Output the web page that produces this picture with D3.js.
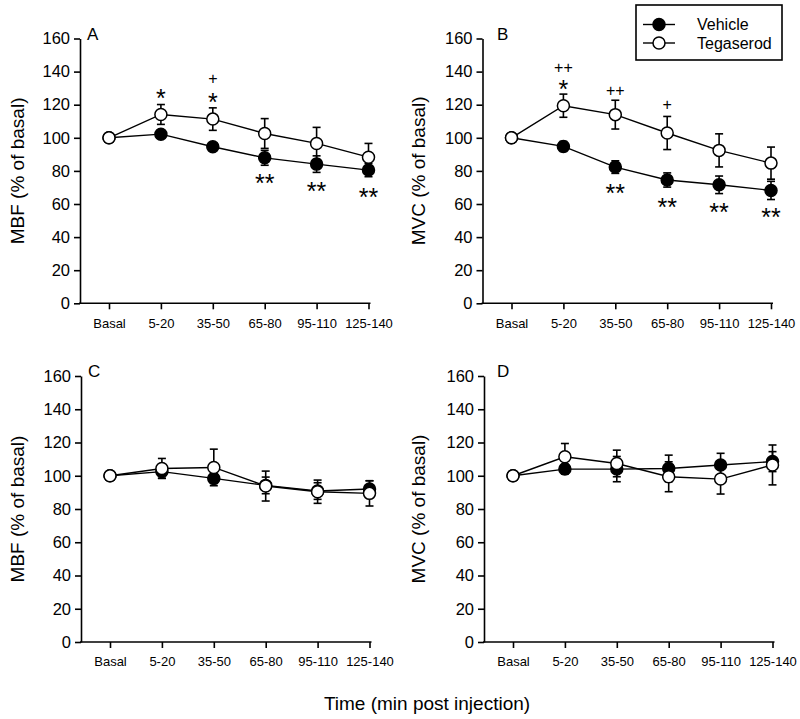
<!DOCTYPE html>
<html><head><meta charset="utf-8">
<script src="https://cdn.jsdelivr.net/npm/d3@7"></script>
<style>
html,body{margin:0;padding:0;background:#fff;}
svg{display:block;font-family:Arial,"Liberation Sans",Helvetica,sans-serif;}
</style></head>
<body>
<svg id="chart" width="800" height="719"></svg>
<script>
// ---------- data ----------
const categories = ["Basal","5-20","35-50","65-80","95-110","125-140"];
const yTicks = [0,20,40,60,80,100,120,140,160];
const seriesNames = ["Vehicle","Tegaserod"];

// Panel A: MBF (drug)
const vehicleA = [100, 102.2, 94.6, 87.9, 84.1, 80.5];
const vehicleAErr = [0, 2, 2, 4.5, 5, 4];
const tegaserodA = [100, 114.1, 111.3, 102.6, 96.6, 88.3];
const tegaserodAErr = [0, 6, 6.8, 9, 9.7, 8.3];
// Panel B: MVC
const vehicleB = [100, 94.8, 82.3, 74.5, 71.6, 68.2];
const vehicleBErr = [0, 3, 3.8, 4.3, 5.3, 5.5];
const tegaserodB = [100, 119.4, 114, 102.9, 92.4, 84.7];
const tegaserodBErr = [0, 7, 8.7, 10, 10, 9.7];
// Panel C: MBF
const vehicleC = [100, 102.5, 98.4, 94.2, 90.8, 92];
const vehicleCErr = [0, 4, 3, 5, 5, 5];
const tegaserodC = [100, 104.4, 105, 93.8, 90.4, 89.4];
const tegaserodCErr = [0, 6, 11, 9, 7, 7.6];
// Panel D: MVC
const vehicleD = [100, 104, 104, 104.4, 106.5, 108.5];
const vehicleDErr = [0, 3, 7.6, 8, 7, 6];
const tegaserodD = [100, 111.4, 107.4, 99.4, 98, 106.5];
const tegaserodDErr = [0, 8, 8, 9, 9, 12];

// significance marks: [category, label, y-value]
const marksA = [["5-20","*",127.3],["35-50","+",135.6],["35-50","*",124.8],
                ["65-80","**",75.7],["95-110","**",70.9],["125-140","**",67.3]];
const marksB = [["5-20","++",142.6],["5-20","*",132.4],["35-50","++",128.9],["65-80","+",120.2],
                ["35-50","**",70.1],["65-80","**",61.4],["95-110","**",58.4],["125-140","**",55.3]];

// ---------- layout ----------
const svg = d3.select("#chart");
const panels = [
  {letter:"A", ax:80,  top:38.5, bottom:303.3, ylab:"MBF (% of basal)", labX:17,  letX:87,
   veh:vehicleA, vehE:vehicleAErr, teg:tegaserodA, tegE:tegaserodAErr, marks:marksA},
  {letter:"B", ax:482.5, top:38.5, bottom:303.3, ylab:"MVC (% of basal)", labX:418, letX:497,
   veh:vehicleB, vehE:vehicleBErr, teg:tegaserodB, tegE:tegaserodBErr, marks:marksB},
  {letter:"C", ax:81,  top:376, bottom:642, ylab:"MBF (% of basal)", labX:17,  letX:88,
   veh:vehicleC, vehE:vehicleCErr, teg:tegaserodC, tegE:tegaserodCErr, marks:[]},
  {letter:"D", ax:484, top:376, bottom:642, ylab:"MVC (% of basal)", labX:418, letX:497,
   veh:vehicleD, vehE:vehicleDErr, teg:tegaserodD, tegE:tegaserodDErr, marks:[]}
];

panels.forEach(p => {
  const g = svg.append("g");
  const x = d3.scalePoint().domain(categories).range([p.ax + 29, p.ax + 288.5]);
  const y = d3.scaleLinear().domain([0,160]).range([p.bottom, p.top]);

  // y axis
  const ya = g.append("g").attr("transform",`translate(${p.ax},0)`)
    .call(d3.axisLeft(y).tickValues(yTicks).tickSize(6).tickSizeOuter(0).tickPadding(4));
  ya.select(".domain").attr("stroke-width",1.6);
  ya.selectAll(".tick line").attr("stroke-width",1.6);
  ya.selectAll(".tick text").attr("font-size",16.5).attr("fill","#000");

  // x axis
  const xa = g.append("g").attr("transform",`translate(0,${p.bottom})`)
    .call(d3.axisBottom(x).tickSize(6).tickSizeOuter(0).tickPadding(9));
  xa.select(".domain").remove();
  xa.selectAll(".tick line").attr("stroke-width",1.6);
  xa.selectAll(".tick text").attr("font-size",13).attr("fill","#000");
  g.append("line").attr("x1",p.ax-1).attr("x2",p.ax+290.5)
    .attr("y1",p.bottom).attr("y2",p.bottom).attr("stroke","#000").attr("stroke-width",1.6);

  // y label
  g.append("text").attr("transform",`translate(${p.labX},${(p.top+p.bottom)/2}) rotate(-90)`)
    .attr("text-anchor","middle").attr("dominant-baseline","central")
    .attr("font-size",19).text(p.ylab);
  // panel letter
  g.append("text").attr("x",p.letX).attr("y",p.top+1).attr("font-size",17).text(p.letter);

  const series = [
    {vals:p.veh, err:p.vehE, fill:"#000"},
    {vals:p.teg, err:p.tegE, fill:"#fff"}
  ];
  // error bars
  series.forEach(s => {
    s.vals.forEach((v,i) => {
      const e = s.err[i];
      if (!e) return;
      const cx = x(categories[i]);
      g.append("line").attr("x1",cx).attr("x2",cx).attr("y1",y(v-e)).attr("y2",y(v+e))
        .attr("stroke","#000").attr("stroke-width",1.6);
      [v-e, v+e].forEach(w => g.append("line").attr("x1",cx-4).attr("x2",cx+4)
        .attr("y1",y(w)).attr("y2",y(w)).attr("stroke","#000").attr("stroke-width",1.6));
    });
  });
  // lines and markers
  const line = d3.line().x((d,i)=>x(categories[i])).y(d=>y(d));
  series.forEach(s => {
    g.append("path").attr("d",line(s.vals)).attr("fill","none")
      .attr("stroke","#000").attr("stroke-width",1.4);
  });
  series.forEach(s => {
    g.selectAll(null).data(s.vals).enter().append("circle")
      .attr("cx",(d,i)=>x(categories[i])).attr("cy",d=>y(d)).attr("r",6)
      .attr("fill",s.fill).attr("stroke","#000").attr("stroke-width",1.5);
  });
  // significance marks
  p.marks.forEach(m => {
    const isStar = m[1].includes("*");
    const fs = isStar ? 25 : 16;
    const k = isStar ? 0.57 : 0.35;
    g.append("text").attr("x",x(m[0])).attr("y",y(m[2]) + fs*k)
      .attr("text-anchor","middle").attr("font-size",fs).attr("fill","#000").text(m[1]);
  });
});

// legend
const lg = svg.append("g");
lg.append("rect").attr("x",636).attr("y",5).attr("width",146).attr("height",55)
  .attr("fill","#fff").attr("stroke","#000").attr("stroke-width",1.6);
const legendFills = ["#000","#fff"];
seriesNames.forEach((name,i) => {
  const ly = 24.5 + i*18.5;
  lg.append("line").attr("x1",643).attr("x2",675).attr("y1",ly).attr("y2",ly)
    .attr("stroke","#000").attr("stroke-width",1.4);
  lg.append("circle").attr("cx",659).attr("cy",ly).attr("r",6)
    .attr("fill",legendFills[i]).attr("stroke","#000").attr("stroke-width",1.5);
  lg.append("text").attr("x",697).attr("y",ly).attr("dominant-baseline","central")
    .attr("font-size",16).text(name);
});

// x label
svg.append("text").attr("x",427).attr("y",710).attr("text-anchor","middle")
  .attr("font-size",19).text("Time (min post injection)");
</script>
</body></html>
